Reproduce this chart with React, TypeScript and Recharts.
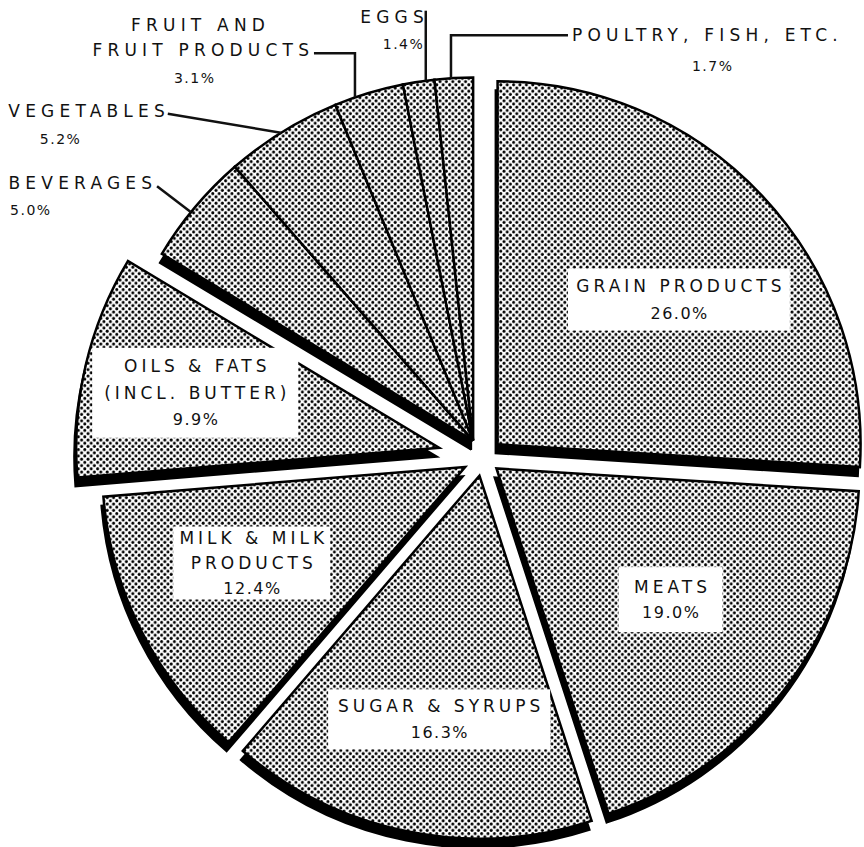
import React from 'react';
import { PieChart, Pie, Cell } from 'recharts';

// ---- data ----
const categories = [
  'GRAIN PRODUCTS',
  'MEATS',
  'SUGAR & SYRUPS',
  'MILK & MILK PRODUCTS',
  'OILS & FATS (INCL. BUTTER)',
  'BEVERAGES',
  'VEGETABLES',
  'FRUIT AND FRUIT PRODUCTS',
  'EGGS',
  'POULTRY, FISH, ETC.',
];
const shares = [26.0, 19.0, 16.3, 12.4, 9.9, 5.0, 5.2, 3.1, 1.4, 1.7];
const labelLines = [
  ['GRAIN PRODUCTS'],
  ['MEATS'],
  ['SUGAR & SYRUPS'],
  ['MILK & MILK', 'PRODUCTS'],
  ['OILS & FATS', '(INCL. BUTTER)'],
  ['BEVERAGES'],
  ['VEGETABLES'],
  ['FRUIT AND', 'FRUIT PRODUCTS'],
  ['EGGS'],
  ['POULTRY, FISH, ETC.'],
];
// which exploded piece each category belongs to
const pieceOf = [0, 1, 2, 3, 4, 5, 5, 5, 5, 5];

const data = categories.map((name, i) => ({ name, value: shares[i] }));

// ---- layout / style ----
const W = 864;
const H = 847;
const CX = 483;
const CY = 458;
const R = 363;
const RAD = Math.PI / 180;
const pieceLift = [20, 17, 18, 20, 45, 20];
const SHADOW_DX = -2;
const SHADOW_DY = 9;
const FONT = '"DejaVu Sans", sans-serif';
const INK = '#111';
const IN_FS = 17;
const IN_LS = 4;
const OUT_FS = 17;
const OUT_LS = 5.2;

const total = shares.reduce((a, b) => a + b, 0);
function pieceMid(p: number) {
  let acc = 0;
  let s: number | null = null;
  let e = 0;
  shares.forEach((v, i) => {
    const a0 = 90 - (acc / total) * 360;
    acc += v;
    const a1 = 90 - (acc / total) * 360;
    if (pieceOf[i] === p) {
      if (s === null) s = a0;
      e = a1;
    }
  });
  return ((s as number) + e) / 2;
}
const pieces = [0, 1, 2, 3, 4, 5];
const pieceCenters = pieces.map((p) => {
  const m = pieceMid(p);
  const d = pieceLift[p];
  return { x: CX + d * Math.cos(m * RAD), y: CY - d * Math.sin(m * RAD) };
});

const polar = (cx: number, cy: number, r: number, a: number) => ({
  x: cx + r * Math.cos(a * RAD),
  y: cy - r * Math.sin(a * RAD),
});

// inside label boxes: radius / angle from slice apex, box size, line gap
const insideLabel: Record<number, { r: number; a: number; w: number; h: number; gap: number }> = {
  0: { r: 232, a: 38.6, w: 222, h: 62, gap: 28 },
  1: { r: 218, a: -37.0, w: 104, h: 65, gap: 26 },
  2: { r: 247, a: -99.4, w: 222, h: 60, gap: 27 },
  3: { r: 234, a: -155.8, w: 157, h: 73, gap: 25 },
  4: { r: 250, a: 167.3, w: 206, h: 90, gap: 27 },
};

type Pt = [number, number];
type Anchor = 'start' | 'middle' | 'end';
// outside labels: anchor angle on the rim, leader points relative to anchor, text positions relative to anchor
const outsideLabel: Record<
  number,
  {
    a: number;
    leader: Pt[];
    lines: { dx: number; dy: number; anchor: Anchor }[];
    pct: { dx: number; dy: number; anchor: Anchor };
  }
> = {
  5: {
    a: 141,
    leader: [[0, 0], [-34, -26]],
    lines: [{ dx: -39, dy: -29, anchor: 'end' }],
    pct: { dx: -181, dy: -2, anchor: 'start' },
  },
  6: {
    a: 122,
    leader: [[0, 0], [-113, -19]],
    lines: [{ dx: -116, dy: -22, anchor: 'end' }],
    pct: { dx: -241, dy: 6, anchor: 'start' },
  },
  7: {
    a: 109,
    leader: [[0, 0], [0, -44], [-41, -44]],
    lines: [
      { dx: -157, dy: -72, anchor: 'middle' },
      { dx: -46, dy: -47, anchor: 'end' },
    ],
    pct: { dx: -161, dy: -19, anchor: 'middle' },
  },
  8: {
    a: 97.5,
    leader: [[0, 0], [0, -70]],
    lines: [{ dx: -2, dy: -64, anchor: 'end' }],
    pct: { dx: -23, dy: -37, anchor: 'middle' },
  },
  9: {
    a: 93.5,
    leader: [[0, 0], [0, -43], [117, -43]],
    lines: [{ dx: 121, dy: -43, anchor: 'start' }],
    pct: { dx: 261, dy: -12, anchor: 'middle' },
  },
};

const pctText = (v: number) => `${v.toFixed(1)}%`;
// compensate the trailing letter-spacing that browsers add after the last glyph
const lsShift = (anchor: Anchor, ls: number) => (anchor === 'end' ? ls : anchor === 'middle' ? ls / 2 : 0);

const makeLabel = (piece: number) => (props: any) => {
  const i: number = props.index;
  if (pieceOf[i] !== piece) return <g key={`n-${piece}-${i}`} />;
  const cx = props.cx as number;
  const cy = props.cy as number;
  if (insideLabel[i]) {
    const c = insideLabel[i];
    const p = polar(cx, cy, c.r, c.a);
    const lines = [...labelLines[i], pctText(shares[i])];
    const n = lines.length;
    return (
      <g key={`l-${i}`}>
        <rect x={p.x - c.w / 2} y={p.y - c.h / 2} width={c.w} height={c.h} fill="#fff" />
        {lines.map((t, k) => {
          const isPct = k === n - 1;
          const ls = isPct ? 1.5 : IN_LS;
          return (
            <text
              key={k}
              x={p.x + lsShift('middle', ls)}
              y={p.y + (k - (n - 1) / 2) * c.gap}
              textAnchor="middle"
              dominantBaseline="central"
              fontFamily={FONT}
              fontSize={isPct ? 16 : IN_FS}
              letterSpacing={ls}
              fill={INK}
            >
              {t}
            </text>
          );
        })}
      </g>
    );
  }
  const c = outsideLabel[i];
  if (!c) return <g key={`n-${i}`} />;
  const a = polar(cx, cy, R, c.a);
  const pts = c.leader.map(([dx, dy]) => `${a.x + dx},${a.y + dy}`).join(' ');
  return (
    <g key={`l-${i}`}>
      <polyline points={pts} fill="none" stroke={INK} strokeWidth={2.5} />
      {labelLines[i].map((t, k) => (
        <text
          key={k}
          x={a.x + c.lines[k].dx + lsShift(c.lines[k].anchor, OUT_LS)}
          y={a.y + c.lines[k].dy}
          textAnchor={c.lines[k].anchor}
          dominantBaseline="central"
          fontFamily={FONT}
          fontSize={OUT_FS}
          letterSpacing={OUT_LS}
          fill={INK}
        >
          {t}
        </text>
      ))}
      <text
        x={a.x + c.pct.dx + lsShift(c.pct.anchor, 1.5)}
        y={a.y + c.pct.dy}
        textAnchor={c.pct.anchor}
        dominantBaseline="central"
        fontFamily={FONT}
        fontSize={14}
        letterSpacing={1.5}
        fill={INK}
      >
        {pctText(shares[i])}
      </text>
    </g>
  );
};

export default function App() {
  return (
    <div style={{ position: 'absolute', left: 0, top: 0, width: W, height: H, background: '#fff' }}>
      <PieChart width={W} height={H} margin={{ top: 0, right: 0, bottom: 0, left: 0 }}>
        <defs>
          <pattern id="dots" width="6.4" height="6.4" patternUnits="userSpaceOnUse">
            <rect width="6.4" height="6.4" fill="#fff" />
            <circle cx="1.6" cy="1.6" r="1.5" fill="#000" />
            <circle cx="4.8" cy="4.8" r="1.5" fill="#000" />
          </pattern>
        </defs>
        {pieces.map((p) => (
          <Pie
            key={`s-${p}`}
            data={data}
            dataKey="value"
            nameKey="name"
            cx={pieceCenters[p].x + SHADOW_DX}
            cy={pieceCenters[p].y + SHADOW_DY}
            outerRadius={R}
            startAngle={90}
            endAngle={-270}
            isAnimationActive={false}
            labelLine={false}
            legendType="none"
          >
            {data.map((d, i) => (
              <Cell
                key={i}
                fill={pieceOf[i] === p ? '#000' : 'none'}
                stroke={pieceOf[i] === p ? '#000' : 'none'}
                strokeWidth={2}
              />
            ))}
          </Pie>
        ))}
        {pieces.map((p) => (
          <Pie
            key={`m-${p}`}
            data={data}
            dataKey="value"
            nameKey="name"
            cx={pieceCenters[p].x}
            cy={pieceCenters[p].y}
            outerRadius={R}
            startAngle={90}
            endAngle={-270}
            isAnimationActive={false}
            labelLine={false}
            label={makeLabel(p)}
            legendType="none"
          >
            {data.map((d, i) => (
              <Cell
                key={i}
                fill={pieceOf[i] === p ? 'url(#dots)' : 'none'}
                stroke={pieceOf[i] === p ? '#000' : 'none'}
                strokeWidth={2.5}
              />
            ))}
          </Pie>
        ))}
      </PieChart>
    </div>
  );
}
